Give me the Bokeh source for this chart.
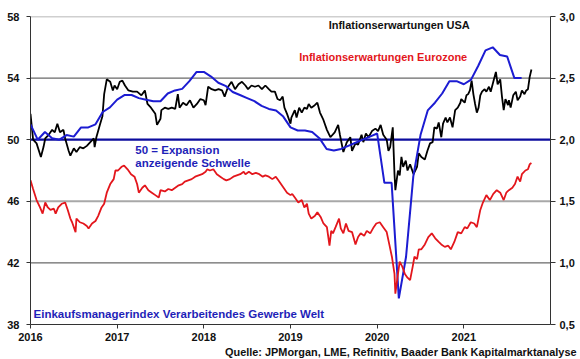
from bokeh.plotting import figure
from bokeh.models import Range1d, LinearAxis, FixedTicker, Span, Label, Title
from bokeh.embed import file_html
from bokeh.resources import INLINE

# Global manufacturing PMI (monthly, left axis), Jan 2016 - Sep 2021
pmi = [51.0, 50.0, 50.5, 50.1, 50.0, 50.3, 50.2, 50.8, 50.8, 51.0, 51.8, 52.1,
       52.6, 52.9, 52.9, 52.7, 52.6, 52.5, 52.5, 53.0, 53.2, 53.3, 53.8, 54.4,
       54.4, 54.1, 53.7, 53.5, 53.1, 52.9, 52.7, 52.5, 52.2, 52.0, 51.9, 51.5,
       50.8, 50.6, 50.6, 50.5, 50.1, 49.4, 49.3, 49.4, 49.6, 49.8, 50.0, 50.2,
       50.4, 47.2, 47.2, 39.7, 42.4, 47.6, 50.3, 51.9, 52.4, 53.0, 53.8, 53.8,
       53.6, 53.9, 54.8, 55.8, 56.0, 55.5, 55.4, 54.0, 54.0]
pmi_start_year = 2016

# US inflation expectations (right axis)
us_x = [2016.00, 2016.03, 2016.07, 2016.12, 2016.15, 2016.17, 2016.21, 2016.25, 2016.28, 2016.31,
        2016.34, 2016.38, 2016.40, 2016.44, 2016.46, 2016.50, 2016.53, 2016.57, 2016.61, 2016.65,
        2016.69, 2016.73, 2016.74, 2016.76, 2016.80, 2016.83, 2016.85, 2016.88, 2016.92, 2016.95,
        2016.97, 2017.00, 2017.03, 2017.06, 2017.09, 2017.13, 2017.18, 2017.23, 2017.28, 2017.32,
        2017.35, 2017.39, 2017.44, 2017.46, 2017.50, 2017.51, 2017.55, 2017.59, 2017.63, 2017.67,
        2017.70, 2017.72, 2017.76, 2017.80, 2017.84, 2017.88, 2017.92, 2017.96, 2018.00, 2018.02,
        2018.05, 2018.09, 2018.13, 2018.17, 2018.21, 2018.24, 2018.28, 2018.32, 2018.36, 2018.40,
        2018.44, 2018.48, 2018.51, 2018.55, 2018.59, 2018.63, 2018.67, 2018.71, 2018.75, 2018.78,
        2018.82, 2018.85, 2018.88, 2018.91, 2018.93, 2018.96, 2019.00, 2019.01, 2019.05, 2019.07,
        2019.10, 2019.13, 2019.16, 2019.19, 2019.21, 2019.24, 2019.28, 2019.31, 2019.34, 2019.38,
        2019.42, 2019.46, 2019.51, 2019.55, 2019.57, 2019.61, 2019.65, 2019.69, 2019.71, 2019.75,
        2019.78, 2019.82, 2019.84, 2019.87, 2019.90, 2019.94, 2019.98, 2020.01, 2020.04, 2020.07,
        2020.11, 2020.13, 2020.15, 2020.18, 2020.20, 2020.21, 2020.24, 2020.26, 2020.28, 2020.30,
        2020.33, 2020.35, 2020.38, 2020.42, 2020.46, 2020.48, 2020.51, 2020.55, 2020.58, 2020.61,
        2020.64, 2020.66, 2020.69, 2020.71, 2020.74, 2020.76, 2020.79, 2020.81, 2020.84, 2020.87,
        2020.90, 2020.93, 2020.96, 2020.97, 2021.01, 2021.03, 2021.05, 2021.07, 2021.09, 2021.11,
        2021.13, 2021.15, 2021.17, 2021.19, 2021.21, 2021.24, 2021.26, 2021.29, 2021.31, 2021.34,
        2021.37, 2021.39, 2021.42, 2021.44, 2021.46, 2021.48, 2021.51, 2021.52, 2021.54, 2021.57,
        2021.60, 2021.62, 2021.65, 2021.67, 2021.70, 2021.72, 2021.74, 2021.76, 2021.78]
us_y = [2.21, 2.00, 1.97, 1.86, 1.94, 2.01, 2.04, 2.08, 2.06, 2.13,
        2.06, 2.08, 2.01, 1.91, 1.87, 1.93, 1.90, 1.94, 1.93, 1.95,
        1.98, 2.01, 1.94, 2.02, 2.12, 2.19, 2.37, 2.49, 2.47, 2.40,
        2.44, 2.41, 2.47, 2.48, 2.44, 2.40, 2.39, 2.39, 2.36, 2.40,
        2.29, 2.26, 2.21, 2.12, 2.17, 2.24, 2.26, 2.25, 2.26, 2.25,
        2.37, 2.26, 2.30, 2.28, 2.32, 2.26, 2.29, 2.33, 2.32, 2.28,
        2.43, 2.41, 2.40, 2.41, 2.40, 2.35, 2.43, 2.47, 2.41, 2.45,
        2.47, 2.44, 2.41, 2.44, 2.43, 2.44, 2.41, 2.44, 2.41, 2.39,
        2.39, 2.33, 2.32, 2.35, 2.26, 2.21, 2.13, 2.18, 2.24, 2.18,
        2.26, 2.22, 2.26, 2.25, 2.29, 2.26, 2.28, 2.30, 2.22, 2.16,
        2.08, 2.02, 2.06, 2.12, 2.04, 1.90, 1.98, 2.02, 1.91, 1.97,
        1.96, 2.04, 1.98, 2.05, 2.02, 2.07, 2.09, 2.07, 2.12, 2.04,
        2.00, 1.91, 1.94, 2.10, 1.72, 1.59, 1.75, 1.71, 1.86, 1.78,
        1.83, 1.75, 1.80, 1.72, 1.78, 1.89, 1.86, 1.84, 1.91, 1.97,
        1.98, 2.10, 2.09, 2.14, 2.02, 2.13, 2.18, 2.14, 2.18, 2.10,
        2.24, 2.26, 2.30, 2.33, 2.30, 2.36, 2.37, 2.40, 2.48, 2.37,
        2.29, 2.22, 2.26, 2.36, 2.39, 2.41, 2.39, 2.43, 2.39, 2.47,
        2.55, 2.45, 2.49, 2.35, 2.24, 2.33, 2.28, 2.32, 2.26, 2.36,
        2.39, 2.32, 2.35, 2.40, 2.37, 2.40, 2.41, 2.51, 2.57]

# Eurozone inflation expectations (right axis)
ez_x = [2016.00, 2016.03, 2016.07, 2016.11, 2016.14, 2016.17, 2016.20, 2016.23, 2016.27, 2016.29,
        2016.32, 2016.36, 2016.40, 2016.43, 2016.46, 2016.48, 2016.52, 2016.53, 2016.57, 2016.61,
        2016.65, 2016.67, 2016.71, 2016.75, 2016.78, 2016.82, 2016.85, 2016.88, 2016.92, 2016.96,
        2016.98, 2017.01, 2017.05, 2017.08, 2017.12, 2017.16, 2017.20, 2017.23, 2017.25, 2017.29,
        2017.32, 2017.36, 2017.40, 2017.44, 2017.48, 2017.50, 2017.55, 2017.59, 2017.63, 2017.67,
        2017.71, 2017.75, 2017.78, 2017.82, 2017.86, 2017.90, 2017.94, 2017.98, 2018.02, 2018.04,
        2018.07, 2018.11, 2018.15, 2018.19, 2018.23, 2018.26, 2018.30, 2018.34, 2018.38, 2018.42,
        2018.46, 2018.48, 2018.52, 2018.56, 2018.60, 2018.64, 2018.68, 2018.71, 2018.75, 2018.79,
        2018.83, 2018.86, 2018.89, 2018.92, 2018.96, 2019.00, 2019.02, 2019.05, 2019.09, 2019.13,
        2019.16, 2019.19, 2019.21, 2019.24, 2019.28, 2019.31, 2019.35, 2019.38, 2019.42, 2019.45,
        2019.47, 2019.49, 2019.52, 2019.56, 2019.58, 2019.61, 2019.64, 2019.67, 2019.71, 2019.75,
        2019.78, 2019.81, 2019.85, 2019.88, 2019.92, 2019.96, 2019.99, 2020.03, 2020.07, 2020.11,
        2020.14, 2020.17, 2020.20, 2020.21, 2020.24, 2020.26, 2020.29, 2020.32, 2020.35, 2020.38,
        2020.41, 2020.43, 2020.46, 2020.48, 2020.51, 2020.55, 2020.59, 2020.63, 2020.67, 2020.71,
        2020.74, 2020.78, 2020.82, 2020.85, 2020.89, 2020.93, 2020.97, 2021.01, 2021.04, 2021.08,
        2021.12, 2021.15, 2021.19, 2021.22, 2021.26, 2021.30, 2021.34, 2021.38, 2021.42, 2021.46,
        2021.49, 2021.52, 2021.56, 2021.59, 2021.62, 2021.65, 2021.67, 2021.71, 2021.74, 2021.76,
        2021.78]
ez_y = [1.67, 1.60, 1.51, 1.45, 1.40, 1.49, 1.45, 1.43, 1.44, 1.40,
        1.45, 1.48, 1.49, 1.43, 1.36, 1.33, 1.25, 1.36, 1.33, 1.32,
        1.30, 1.28, 1.32, 1.34, 1.38, 1.45, 1.48, 1.57, 1.64, 1.68,
        1.75, 1.75, 1.78, 1.79, 1.76, 1.72, 1.70, 1.64, 1.57, 1.61,
        1.63, 1.59, 1.57, 1.55, 1.53, 1.59, 1.58, 1.60, 1.59, 1.61,
        1.63, 1.64, 1.66, 1.67, 1.68, 1.70, 1.71, 1.72, 1.74, 1.76,
        1.75, 1.76, 1.72, 1.70, 1.68, 1.67, 1.68, 1.70, 1.71, 1.72,
        1.74, 1.72, 1.74, 1.72, 1.73, 1.72, 1.70, 1.71, 1.70, 1.68,
        1.70, 1.67, 1.64, 1.61, 1.57, 1.55, 1.56, 1.53, 1.49, 1.51,
        1.45, 1.48, 1.40, 1.36, 1.38, 1.41, 1.37, 1.32, 1.29, 1.14,
        1.26, 1.24, 1.29, 1.36, 1.28, 1.24, 1.32, 1.26, 1.25, 1.15,
        1.21, 1.24, 1.22, 1.26, 1.24, 1.29, 1.32, 1.33, 1.29, 1.25,
        1.15, 1.05, 0.91, 0.75, 0.91, 1.01, 0.97, 0.91, 0.88, 0.86,
        0.97, 1.05, 1.03, 1.11, 1.11, 1.15, 1.21, 1.24, 1.20, 1.17,
        1.15, 1.13, 1.14, 1.11, 1.17, 1.25, 1.24, 1.29, 1.28, 1.33,
        1.32, 1.29, 1.43, 1.49, 1.55, 1.51, 1.56, 1.59, 1.57, 1.51,
        1.57, 1.59, 1.61, 1.64, 1.70, 1.66, 1.72, 1.75, 1.76, 1.80,
        1.81]

left_ticks = [38, 42, 46, 50, 54, 58]
right_ticks = [0.5, 1.0, 1.5, 2.0, 2.5, 3.0]
right_labels = ["0,5", "1,0", "1,5", "2,0", "2,5", "3,0"]
year_ticks = [2016, 2017, 2018, 2019, 2020, 2021]

FONT = "Liberation Sans"
BLUE = "#1c1cd2"
NAVY = "#0c0c9e"
RED = "#e3161c"
TXTBLUE = "#1f1fb8"

p = figure(width=580, height=359, output_backend="svg", toolbar_location=None,
           x_range=Range1d(2016, 2022), y_range=Range1d(38, 58),
           min_border_left=30, min_border_right=30, min_border_top=16, min_border_bottom=35)
p.outline_line_color = None
p.background_fill_color = "white"
p.border_fill_color = "white"
p.xgrid.visible = False
p.ygrid.visible = False
p.extra_y_ranges = {"r": Range1d(0.5, 3.0)}

def style_axis(ax):
    ax.axis_line_color = "#333333"
    ax.axis_line_width = 1
    ax.major_tick_line_color = "#333333"
    ax.major_tick_in = 0
    ax.major_tick_out = 4
    ax.minor_tick_line_color = None
    ax.major_label_text_font = FONT
    ax.major_label_text_font_style = "bold"
    ax.major_label_text_font_size = "11px"
    ax.major_label_text_color = "#111111"

style_axis(p.xaxis[0])
p.xaxis[0].ticker = FixedTicker(ticks=year_ticks)
p.xaxis[0].major_label_overrides = {y: str(y) for y in year_ticks}
p.xaxis[0].major_label_standoff = 4
style_axis(p.yaxis[0])
p.yaxis[0].ticker = FixedTicker(ticks=left_ticks)
p.yaxis[0].major_label_standoff = 7

ra = LinearAxis(y_range_name="r", ticker=FixedTicker(ticks=right_ticks))
style_axis(ra)
ra.major_tick_out = 5
ra.major_label_overrides = {t: l for t, l in zip(right_ticks, right_labels)}
ra.major_label_standoff = 4
p.add_layout(ra, "right")

# gridlines
for loc, col, w in [(58, "#a0a0a0", 1.5), (54, "#444444", 1), (46, "#a8a8a8", 2), (42, "#444444", 1)]:
    p.add_layout(Span(location=loc, dimension="width", line_color=col, line_width=w, level="underlay"))
p.add_layout(Span(location=50, dimension="width", line_color=NAVY, line_width=2.2, level="underlay"))

pmi_x = [pmi_start_year + i / 12 for i in range(len(pmi))]
p.line(us_x, us_y, y_range_name="r", line_color="black", line_width=1.8)
p.line(pmi_x, pmi, line_color=BLUE, line_width=2)
p.line(ez_x, ez_y, y_range_name="r", line_color=RED, line_width=1.8)

def lab(x, y, text, color, align="left", size="11px"):
    p.add_layout(Label(x=x, y=y, text=text, text_color=color, text_font=FONT,
                       text_font_style="bold", text_font_size=size,
                       text_align=align, text_baseline="middle"))

lab(2019.44, 57.42, "Inflationserwartungen USA", "#111111")
lab(2019.10, 55.40, "Inflationserwartungen Eurozone", RED)
lab(2017.21, 49.36, "50 = Expansion", TXTBLUE, size="11.5px")
lab(2017.21, 48.49, "anzeigende Schwelle", TXTBLUE, size="11.5px")
lab(2016.035, 38.65, "Einkaufsmanagerindex Verarbeitendes Gewerbe Welt", TXTBLUE, size="11.5px")

src = Title(text="Quelle: JPMorgan, LME, Refinitiv, Baader Bank Kapitalmarktanalyse",
            align="right", offset=-26, standoff=0, text_font=FONT, text_font_style="bold",
            text_font_size="10.9px", text_color="#111111")
p.add_layout(src, "below")

open("out.html", "w").write(file_html(p, INLINE))
